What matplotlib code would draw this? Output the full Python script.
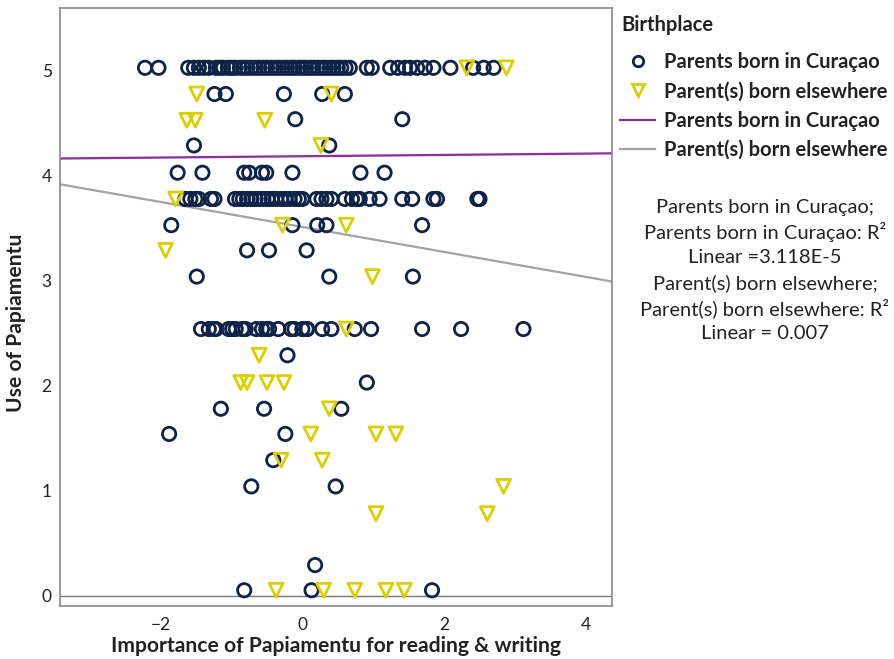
import matplotlib.pyplot as plt
from matplotlib.lines import Line2D

plt.rcParams['font.family'] = ['Lato', 'DejaVu Sans']

# rows of points (y level, x values)
cur_y = [5.03, 4.78, 4.54, 4.29, 4.03, 3.78, 3.53, 3.29, 3.04, 2.54,
         2.29, 2.03, 1.78, 1.54, 1.29, 1.04, 0.29, 0.05]
cur_x = [
    [-2.22, -2.03, -1.61, -1.53, -1.46, -1.39, -1.32, -1.22, -1.17, -1.12,
     -1.05, -1.0, -0.95, -0.88, -0.83, -0.78, -0.72, -0.66, -0.61, -0.55,
     -0.5, -0.44, -0.38, -0.33, -0.27, -0.22, -0.16, -0.11, -0.05, 0.0,
     0.05, 0.11, 0.16, 0.22, 0.28, 0.33, 0.39, 0.44, 0.5, 0.55, 0.61, 0.67,
     0.91, 0.98, 1.24, 1.35, 1.45, 1.52, 1.62, 1.73, 1.85, 2.09, 2.41,
     2.56, 2.70],
    [-1.24, -1.08, -0.26, 0.28, 0.60],
    [-0.10, 1.41],
    [-1.53, 0.38],
    [-1.76, -1.41, -0.82, -0.75, -0.57, -0.51, -0.14, 0.82, 1.16],
    [-1.65, -1.58, -1.51, -1.46, -1.29, -1.24, -0.95, -0.89, -0.84, -0.78,
     -0.72, -0.66, -0.6, -0.55, -0.49, -0.43, -0.37, -0.3, -0.24, -0.18,
     -0.11, -0.05, 0.0, 0.2, 0.27, 0.34, 0.41, 0.6, 0.7, 0.77, 0.81, 0.95,
     1.09, 1.41, 1.55, 1.85, 1.9, 2.47, 2.49, 2.5],
    [-1.85, -0.14, 0.21, 0.34, 1.69],
    [-0.78, -0.47, 0.06],
    [-1.49, 0.38, 1.56],
    [-1.43, -1.32, -1.25, -1.22, -1.04, -0.99, -0.94, -0.85, -0.80, -0.65,
     -0.57, -0.51, -0.47, -0.34, -0.16, -0.11, 0.0, 0.06, 0.07, 0.28, 0.41,
     0.74, 0.97, 1.69, 2.24, 3.12],
    [-0.21],
    [0.91],
    [-1.15, -0.54, 0.55],
    [-1.88, -0.24],
    [-0.41],
    [-0.72, 0.47],
    [0.18],
    [-0.82, 0.13, 1.83],
]

els_y = [5.03, 4.78, 4.53, 4.29, 3.78, 3.53, 3.29, 3.04, 2.54, 2.29,
         2.03, 1.78, 1.54, 1.29, 1.04, 0.78, 0.05]
els_x = [
    [2.32, 2.88],
    [-1.49, 0.41],
    [-1.63, -1.51, -0.53],
    [0.26],
    [-1.79],
    [-0.28, 0.62],
    [-1.93],
    [0.99],
    [0.62],
    [-0.61],
    [-0.87, -0.78, -0.50, -0.26],
    [0.38],
    [0.12, 1.04, 1.32],
    [-0.30, 0.28],
    [2.84],
    [1.04, 2.61],
    [-0.37, 0.30, 0.74, 1.18, 1.44],
]

# fit lines (intercept, slope) as drawn
fit_cur = (4.187, 0.0063)
fit_els = (3.513, -0.119)

legend_labels = ["Parents born in Curaçao", "Parent(s) born elsewhere",
                 "Parents born in Curaçao", "Parent(s) born elsewhere"]
note_lines = ["Parents born in Curaçao;", "Parents born in Curaçao: R²",
              "Linear =3.118E-5", "Parent(s) born elsewhere;",
              "Parent(s) born elsewhere: R²", "Linear = 0.007"]

navy = '#0f2248'
yellow = '#dccf00'
purple = '#8e2d9e'
grey = '#a3a3a3'

def flatten(ys, xs):
    px, py = [], []
    for y, row in zip(ys, xs):
        px += row
        py += [y] * len(row)
    return px, py

cx, cy = flatten(cur_y, cur_x)
ex, ey = flatten(els_y, els_x)

fig = plt.figure(figsize=(8.95, 6.59), dpi=100)
ax = fig.add_axes([60 / 895, 53 / 659, 552 / 895, 598 / 659])

xlim = (-3.42, 4.37)
ax.set_xlim(*xlim)
ax.set_ylim(-0.1, 5.6)

ax.axhline(0, color='#777777', lw=1.0, zorder=1)
ax.scatter(cx, cy, s=92, facecolors='none', edgecolors=navy, linewidths=2, zorder=3)
ax.scatter(ex, ey, s=100, marker='v', facecolors='none', edgecolors=yellow, linewidths=2, zorder=3)
ax.plot(xlim, [fit_cur[0] + fit_cur[1] * x for x in xlim], color=purple, lw=1.6, zorder=2)
ax.plot(xlim, [fit_els[0] + fit_els[1] * x for x in xlim], color=grey, lw=1.6, zorder=2)

ax.set_xticks([-2, 0, 2, 4])
ax.set_xticklabels(['−2', '0', '2', '4'])
ax.set_yticks([0, 1, 2, 3, 4, 5])
ax.tick_params(axis='x', length=0, labelsize=12.5, colors='#222222', pad=8)
ax.tick_params(axis='y', length=0, labelsize=12.5, colors='#222222', pad=6)
for s in ax.spines.values():
    s.set_color('#888888')
    s.set_linewidth(1.2)

ax.set_xlabel("Importance of Papiamentu for reading & writing", fontsize=15.2,
              fontweight='bold', color='#222222', labelpad=2)
ax.set_ylabel("Use of Papiamentu", fontsize=15.2, fontweight='bold', color='#222222')
ax.yaxis.set_label_coords(-34 / 552, (606 - 323) / 598)

handles = [
    Line2D([], [], ls='none', marker='o', ms=7.5, mfc='none', mec=navy, mew=2),
    Line2D([], [], ls='none', marker='v', ms=8, mfc='none', mec=yellow, mew=2),
    Line2D([], [], color=purple, lw=1.6),
    Line2D([], [], color=grey, lw=1.6),
]
fig.text(621 / 895, 1 - 25 / 659, "Birthplace", ha='left', va='center',
         fontsize=14.5, fontweight='bold', color='#222222')
fig.legend(handles, legend_labels, loc='upper left',
           bbox_to_anchor=(612 / 895, 1 - 44 / 659), frameon=False,
           prop={'size': 14.5, 'weight': 'bold'}, handlelength=1.75,
           handletextpad=0.45, labelspacing=0.46, borderaxespad=0,
           labelcolor='#222222')

for i, line in enumerate(note_lines):
    fig.text(765 / 895, 1 - (207 + 25.3 * i) / 659, line, ha='center', va='center',
             fontsize=14.5, color='#222222')

fig.savefig("out.png", dpi=100)
